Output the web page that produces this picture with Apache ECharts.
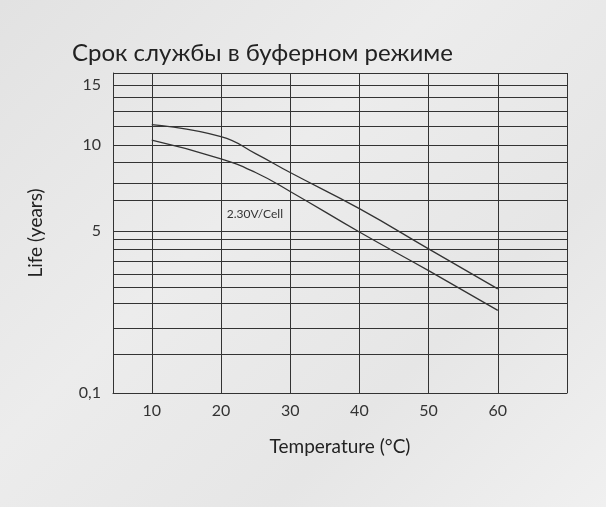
<!DOCTYPE html><html><head><meta charset="utf-8"><script src="https://cdn.jsdelivr.net/npm/echarts@6/dist/echarts.min.js"></script>
<style>html,body{margin:0;padding:0;background:linear-gradient(135deg,#e2e2e2 0%,#ececec 40%,#e6e6e6 70%,#f0f0f0 100%);}#c{width:606px;height:507px;}</style></head><body><div id="c"></div><script>
var temps=[10,20,25,30,40,50,60];
var upperLife=[11.7,10.7,9.5,8.4,6.3,4.46,3.25];
var lowerLife=[10.4,9.2,8.4,7.3,4.97,3.8,2.6];
var yTickLabels=[0.1,5,10,15];
var xTickLabels=[10,20,30,40,50,60];
var yGridLife=[15,14,12.8,11.6,10,9,7.8,6.8,5,4.76,4.45,4.1,3.7,3.3,2.8,2.05,1.28];
var knotsV=[0.1,5,10,15,16];var knotsP=[0,162,248,308,320];
function tf(v){for(var i=1;i<knotsV.length;i++){if(v<=knotsV[i]){var t=(v-knotsV[i-1])/(knotsV[i]-knotsV[i-1]);return knotsP[i-1]+t*(knotsP[i]-knotsP[i-1]);}}return knotsP[knotsP.length-1];}
function lab(p){for(var i=0;i<yTickLabels.length;i++){if(Math.abs(tf(yTickLabels[i])-p)<0.5){return String(yTickLabels[i]).replace('.',',');}}return '';}
var ff='Lato, "Open Sans", sans-serif';
var c=echarts.init(document.getElementById('c'));
c.setOption({
title:{text:'Срок службы в буферном режиме',left:67,top:36,textStyle:{fontFamily:ff,fontSize:24,fontWeight:'normal',color:'#222'}},
grid:{left:113,top:73,width:454,height:320},
xAxis:{type:'value',min:4.4,max:70,name:'Temperature (°C)',nameLocation:'middle',nameGap:44,nameTextStyle:{fontFamily:ff,fontSize:19,color:'#222'},
axisLine:{lineStyle:{color:'#333'}},axisTick:{show:false},splitLine:{show:false},
axisLabel:{customValues:xTickLabels,fontFamily:ff,fontSize:16,color:'#333',margin:10}},
yAxis:{type:'value',min:0,max:320,name:'Life (years)',nameLocation:'middle',nameGap:68,nameTextStyle:{fontFamily:ff,fontSize:19,color:'#222'},
axisLine:{show:true,lineStyle:{color:'#333'}},axisTick:{show:false},splitLine:{show:false},
axisLabel:{customValues:yTickLabels.map(tf),formatter:function(v){return lab(v);},fontFamily:ff,fontSize:16,color:'#333',margin:12}},
series:[
{type:'line',smooth:0.5,symbol:'none',data:temps.map(function(t,i){return [t,tf(upperLife[i])];}),lineStyle:{color:'#333',width:1.3},
 markLine:{silent:true,symbol:'none',label:{show:false},lineStyle:{color:'#333',width:1,type:'solid'},
  data:yGridLife.map(function(v){return {yAxis:tf(v)};}).concat([{yAxis:320}]).concat(xTickLabels.map(function(x){return {xAxis:x};})).concat([{xAxis:70}])}},
{type:'line',smooth:0.5,symbol:'none',data:temps.map(function(t,i){return [t,tf(lowerLife[i])];}),lineStyle:{color:'#333',width:1.3},
 markPoint:{symbolSize:0,data:[{coord:[24.9,tf(6.0)],label:{show:true,formatter:'2.30V/Cell',fontFamily:ff,fontSize:12,color:'#333'}}]}}
]});
</script></body></html>
